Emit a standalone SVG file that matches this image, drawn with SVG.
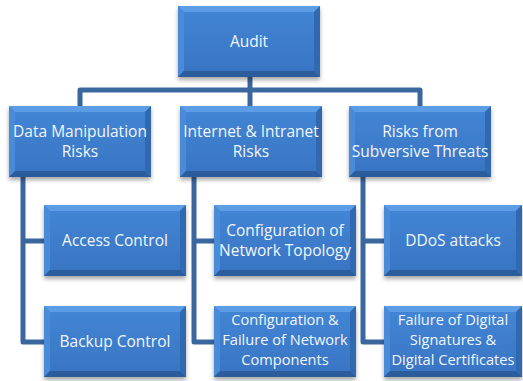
<svg xmlns="http://www.w3.org/2000/svg" xmlns:xlink="http://www.w3.org/1999/xlink" width="523" height="381" viewBox="0 0 523 381">
  <style>
    .lbl { font-family: "Open Sans", "Liberation Sans", sans-serif; font-size: 15.5px; fill: #f2f6fc; text-anchor: middle; }
    .lbl.tight { font-size: 14.6px; }
    .wire { fill: none; stroke: #3b679f; stroke-width: 5; stroke-linejoin: round; }
    .face { fill: url(#faceGrad); }
    .bt { fill: #5c9de6; }
    .bl { fill: #4a8bd9; }
    .br { fill: #3069b0; }
    .bb { fill: #2b5d9d; }
  </style>
  <defs>
    <linearGradient id="faceGrad" x1="0" y1="0" x2="0" y2="1">
      <stop offset="0" stop-color="#4386d6"/>
      <stop offset="1" stop-color="#3874c2"/>
    </linearGradient>
    <filter id="shadow" x="-10%" y="-10%" width="120%" height="130%">
      <feDropShadow dx="0" dy="3" stdDeviation="2" flood-color="#000" flood-opacity="0.35"/>
    </filter>
    <!-- bevelled box, 142 x 71 -->
    <g id="box">
      <rect class="face" x="0" y="0" width="142" height="71" filter="url(#shadow)"/>
      <polygon class="bt" points="0,0 142,0 136,6 6,6"/>
      <polygon class="bl" points="0,0 6,6 6,65 0,71"/>
      <polygon class="br" points="142,0 142,71 136,65 136,6"/>
      <polygon class="bb" points="0,71 6,65 136,65 142,71"/>
    </g>
    <!-- narrower bevelled box, 138 x 71 -->
    <g id="boxN">
      <rect class="face" x="0" y="0" width="138" height="71" filter="url(#shadow)"/>
      <polygon class="bt" points="0,0 138,0 132,6 6,6"/>
      <polygon class="bl" points="0,0 6,6 6,65 0,71"/>
      <polygon class="br" points="138,0 138,71 132,65 132,6"/>
      <polygon class="bb" points="0,71 6,65 132,65 138,71"/>
    </g>
  </defs>

  <g id="connectors">
    <path class="wire" d="M250,77 V106"/>
    <path class="wire" d="M80,106 V90 H420 V106"/>
    <path class="wire" d="M23,177 V342 H44 M23,241 H44"/>
    <path class="wire" d="M194,177 V342 H214 M194,241 H214"/>
    <path class="wire" d="M363,177 V342 H384 M363,241 H384"/>
  </g>

  <g id="audit">
    <use xlink:href="#box" x="178" y="6"/>
    <text class="lbl" x="249" y="47">Audit</text>
  </g>

  <g id="data-manipulation">
    <use xlink:href="#box" x="9" y="106"/>
    <text class="lbl" x="80" y="137">Data Manipulation</text>
    <text class="lbl" x="80" y="157">Risks</text>
  </g>

  <g id="internet-intranet">
    <use xlink:href="#box" x="180" y="106"/>
    <text class="lbl" x="251" y="137">Internet &amp; Intranet</text>
    <text class="lbl" x="251" y="157">Risks</text>
  </g>

  <g id="subversive-threats">
    <use xlink:href="#box" x="349" y="106"/>
    <text class="lbl" x="420" y="137">Risks from</text>
    <text class="lbl" x="420" y="157">Subversive Threats</text>
  </g>

  <g id="access-control">
    <use xlink:href="#box" x="44" y="205"/>
    <text class="lbl" x="115" y="246">Access Control</text>
  </g>

  <g id="backup-control">
    <use xlink:href="#box" x="44" y="306"/>
    <text class="lbl" x="115" y="347">Backup Control</text>
  </g>

  <g id="network-topology">
    <use xlink:href="#box" x="214" y="205"/>
    <text class="lbl" x="285" y="236">Configuration of</text>
    <text class="lbl" x="285" y="256">Network Topology</text>
  </g>

  <g id="network-components">
    <use xlink:href="#box" x="214" y="306"/>
    <text class="lbl tight" x="285" y="325">Configuration &amp;</text>
    <text class="lbl tight" x="285" y="345">Failure of Network</text>
    <text class="lbl tight" x="285" y="365">Components</text>
  </g>

  <g id="ddos">
    <use xlink:href="#boxN" x="384" y="205"/>
    <text class="lbl" x="453" y="246">DDoS attacks</text>
  </g>

  <g id="digital-signatures">
    <use xlink:href="#boxN" x="384" y="306"/>
    <text class="lbl tight" x="453" y="325">Failure of Digital</text>
    <text class="lbl tight" x="453" y="345">Signatures &amp;</text>
    <text class="lbl tight" x="453" y="365">Digital Certificates</text>
  </g>
</svg>
